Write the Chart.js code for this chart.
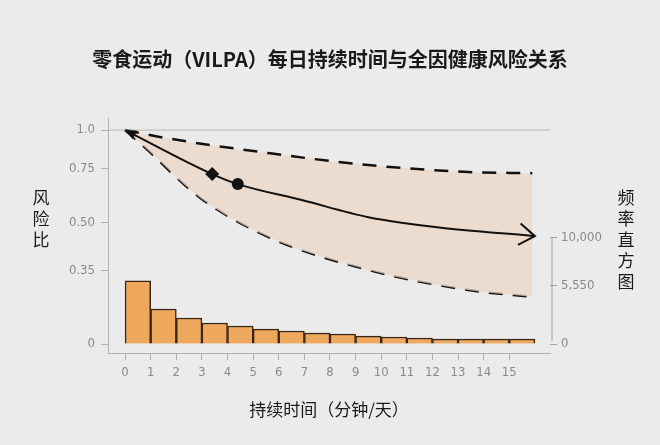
<!DOCTYPE html>
<html>
<head>
<meta charset="utf-8">
<script src="https://cdn.jsdelivr.net/npm/chart.js@4"></script>
<style>
  body { margin: 0; background: #ebebeb; }
  #wrap { position: relative; width: 660px; height: 445px; font-family: "Noto Sans CJK SC", sans-serif; color: #1a1a1a; }
  canvas { position: absolute; left: 0; top: 0; }
  .title { position: absolute; top: 44px; width: 660px; text-align: center; font-size: 20px; font-weight: bold; }
  .xtitle { position: absolute; top: 396px; width: 660px; left: 0; text-align: center; font-size: 17px; }
  .vt { position: absolute; font-size: 17px; line-height: 21px; width: 20px; text-align: center; }
</style>
</head>
<body>
<div id="wrap">
  <canvas id="c" width="660" height="445"></canvas>
  <div class="title">零食运动（VILPA）每日持续时间与全因健康风险关系</div>
  <div class="vt" style="left:31px;top:186px;">风<br>险<br>比</div>
  <div class="vt" style="left:616px;top:186px;">频<br>率<br>直<br>方<br>图</div>
  <div class="xtitle" style="left:-1px;">持续时间（分钟/天）</div>
</div>
<script>
// 风险比（中心估计与置信区间）
const midX = [0, 3.4, 4.4, 6.9, 9.5, 12.1, 16];
const midHR = [1.0, 0.72, 0.668, 0.593, 0.522, 0.485, 0.453];
const upX = [0, 1.6, 5.6, 9.5, 13.4, 15.9];
const upHR = [1.0, 0.942, 0.842, 0.770, 0.731, 0.725];
const loX = [0, 0.8, 2.9, 5.6, 9.5, 13.4, 15.9];
const loHR = [1.0, 0.874, 0.606, 0.450, 0.352, 0.303, 0.288];
// 频率直方图
const histCounts = [5950, 3300, 2450, 1980, 1700, 1400, 1230, 1040, 940, 750, 660, 570, 470, 470, 470, 470];
const xTicks = [0, 1, 2, 3, 4, 5, 6, 7, 8, 9, 10, 11, 12, 13, 14, 15];
const hrTicks = [1.0, 0.75, 0.5, 0.35];
const hrTickLabels = ['1.0', '0.75', '0.50', '0.35'];
const hrZero = -1.597; // 左轴 "0" 标签位置（对数坐标下）
const freqTicks = [0, 5550, 10000];

const pts = (xs, ys) => xs.map((x, i) => ({ x: x, y: Math.log(ys[i]) }));
const gray = '#8a8a8a';
const tickFont = { family: 'DejaVu Sans Condensed', size: 13 };

const decor = {
  id: 'decor',
  afterDraw(chart) {
    const c = chart.ctx, xs = chart.scales.x, ys = chart.scales.y, y2 = chart.scales.y2;
    c.save();
    // 1.0 reference line
    c.strokeStyle = '#b5b5b5'; c.lineWidth = 1;
    c.beginPath(); c.moveTo(xs.left, ys.getPixelForValue(0)); c.lineTo(xs.right, ys.getPixelForValue(0)); c.stroke();
    // right bracket axis
    c.strokeStyle = '#a0a0a0';
    const rx = y2.left + 2;
    c.beginPath(); c.moveTo(rx, y2.getPixelForValue(10000)); c.lineTo(rx, y2.getPixelForValue(0) - 3); c.stroke();
    // arrows on central curve
    const m = chart.getDatasetMeta(0).data;
    c.strokeStyle = '#111'; c.fillStyle = '#111'; c.lineWidth = 2;
    const a0 = m[0], a1 = m[1];
    let ang = Math.atan2(a0.y - a1.y, a0.x - a1.x);
    c.beginPath();
    c.moveTo(a0.x, a0.y);
    c.lineTo(a0.x - 12 * Math.cos(ang - 0.4), a0.y - 12 * Math.sin(ang - 0.4));
    c.lineTo(a0.x - 12 * Math.cos(ang + 0.4), a0.y - 12 * Math.sin(ang + 0.4));
    c.closePath(); c.fill();
    const e = m[m.length - 1], p = m[m.length - 2];
    ang = Math.atan2(e.y - p.y, e.x - p.x) + 0.03;
    c.beginPath();
    c.moveTo(e.x - 19 * Math.cos(ang - 0.6), e.y - 19 * Math.sin(ang - 0.6));
    c.lineTo(e.x, e.y);
    c.lineTo(e.x - 19 * Math.cos(ang + 0.6), e.y - 19 * Math.sin(ang + 0.6));
    c.stroke();
    c.restore();
  }
};

new Chart(document.getElementById('c'), {
  data: {
    datasets: [
      {
        type: 'line', data: pts(midX, midHR), yAxisID: 'y', borderColor: '#111', borderWidth: 2,
        cubicInterpolationMode: 'monotone', fill: false, order: 0,
        pointStyle: ['circle', 'rectRot', 'circle', 'circle', 'circle', 'circle', 'circle'],
        pointRadius: [0, 7, 6, 0, 0, 0, 0], pointBackgroundColor: '#111', pointBorderWidth: 0
      },
      {
        type: 'line', data: pts(upX, upHR), yAxisID: 'y', borderColor: '#111', borderWidth: 2.5,
        borderDash: [14, 10], cubicInterpolationMode: 'monotone', pointRadius: 0,
        fill: '+1', backgroundColor: 'rgba(236,215,198,0.75)', order: 1
      },
      {
        type: 'line', data: pts(loX, loHR), yAxisID: 'y', borderColor: '#111', borderWidth: 2.5,
        borderDash: [14, 10], cubicInterpolationMode: 'monotone', pointRadius: 0, fill: false, order: 1
      },
      {
        type: 'bar', data: histCounts.map((v, i) => ({ x: xTicks[i] + 0.5, y: v })), yAxisID: 'y2',
        backgroundColor: '#eea95f', borderColor: '#3a2414', borderWidth: 1.5,
        barPercentage: 1, categoryPercentage: 1, order: 2
      }
    ]
  },
  options: {
    responsive: false, animation: false,
    layout: { padding: { top: 118, left: 0, right: 0, bottom: 0 } },
    plugins: { legend: { display: false }, tooltip: { enabled: false } },
    scales: {
      x: {
        type: 'linear', min: -0.667, max: 16.59, offset: false,
        afterBuildTicks: s => { s.ticks = xTicks.map(v => ({ value: v })); },
        afterFit: s => { s.height = 92; },
        ticks: { color: gray, font: tickFont, padding: 5, autoSkip: false, maxRotation: 0 },
        grid: { drawOnChartArea: false, offset: false, color: '#b0b0b0', tickLength: 7 },
        border: { color: '#b0b0b0' }
      },
      y: {
        type: 'linear', position: 'left', min: -1.664, max: 0.09,
        afterBuildTicks: s => { s.ticks = hrTicks.map(v => ({ value: Math.log(v) })).concat([{ value: hrZero }]); },
        afterFit: s => { s.width = 108; },
        ticks: {
          color: gray, font: tickFont, padding: 6,
          callback: (v, i) => i < hrTickLabels.length ? hrTickLabels[i] : '0'
        },
        grid: { drawOnChartArea: false, color: '#b0b0b0', tickLength: 7 },
        border: { color: '#b0b0b0' }
      },
      y2: {
        type: 'linear', position: 'right', min: -849, max: 21320,
        afterBuildTicks: s => { s.ticks = freqTicks.map(v => ({ value: v })); },
        afterFit: s => { s.width = 110; },
        ticks: { color: gray, font: tickFont, padding: 4, callback: v => v.toLocaleString('en-US') },
        grid: { drawOnChartArea: false, color: '#a0a0a0', tickLength: 7 },
        border: { display: false }
      }
    }
  },
  plugins: [decor]
});
</script>
</body>
</html>
